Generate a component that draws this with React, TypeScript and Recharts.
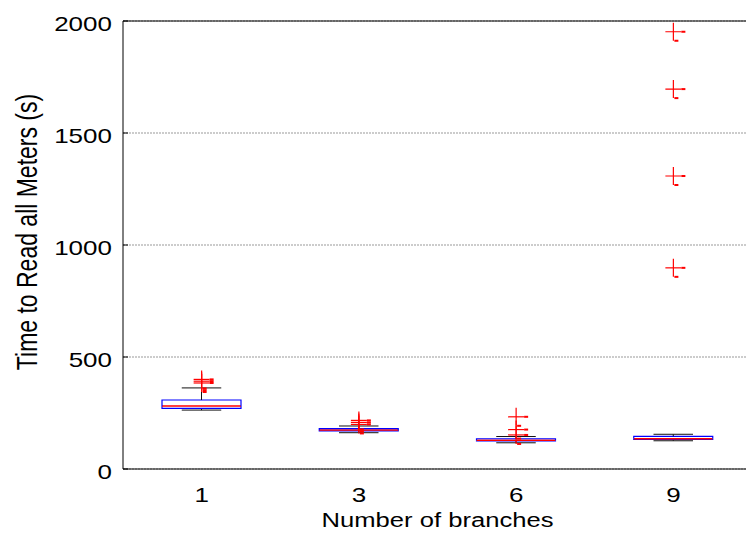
import { ComposedChart, Bar, Scatter, XAxis, YAxis, CartesianGrid, ReferenceLine } from "recharts";

const branches = ["1", "3", "6", "9"];
const whiskerLow = [263, 162, 117, 126];
const q1 = [271, 170, 125, 132];
const median = [281, 174, 128, 135];
const q3 = [308, 180, 135, 146];
const whiskerHigh = [362, 192, 145, 155];
const outliers = [
  { name: "1", values: [384, 392, 400] },
  { name: "3", values: [199, 208, 217] },
  { name: "6", values: [152, 176, 233] },
  { name: "9", values: [898, 1308, 1696, 1952] },
];
const yTicks = [0, 500, 1000, 1500, 2000];

const FONT = "'Liberation Sans', Arial, sans-serif";
const BOX_W = 79;

// stacked segments so every edge goes through the y scale
const boxData = branches.map((name, i) => ({
  name,
  base: whiskerLow[i],
  lowWhisker: q1[i] - whiskerLow[i],
  lowBox: median[i] - q1[i],
  highBox: q3[i] - median[i],
  highWhisker: whiskerHigh[i] - q3[i],
}));

const outlierData = outliers.flatMap((o) => o.values.map((value) => ({ name: o.name, value })));

const LowWhisker = (p: any) => {
  const cx = p.x + p.width / 2;
  const bottom = p.y + p.height;
  return (
    <g stroke="#111" strokeWidth={1}>
      <line x1={cx} x2={cx} y1={p.y} y2={bottom} />
      <line x1={cx - p.width / 4} x2={cx + p.width / 4} y1={bottom} y2={bottom} />
    </g>
  );
};

const HighWhisker = (p: any) => {
  const cx = p.x + p.width / 2;
  return (
    <g stroke="#111" strokeWidth={1}>
      <line x1={cx} x2={cx} y1={p.y} y2={p.y + p.height} />
      <line x1={cx - p.width / 4} x2={cx + p.width / 4} y1={p.y} y2={p.y} />
    </g>
  );
};

const LowBox = (p: any) => {
  const bottom = p.y + p.height;
  return (
    <g fill="none">
      <path d={`M${p.x},${p.y} V${bottom} H${p.x + p.width} V${p.y}`} stroke="#0000ff" strokeWidth={1.2} />
      <line x1={p.x} x2={p.x + p.width} y1={p.y} y2={p.y} stroke="#ff0000" strokeWidth={1.5} />
    </g>
  );
};

const HighBox = (p: any) => {
  const bottom = p.y + p.height;
  return (
    <path
      d={`M${p.x},${bottom} V${p.y} H${p.x + p.width} V${bottom}`}
      fill="none"
      stroke="#0000ff"
      strokeWidth={1.2}
    />
  );
};

const Plus = (p: any) => {
  const { cx, cy } = p;
  return (
    <g stroke="#ff0000" strokeWidth={1.2}>
      <line x1={cx - 8} x2={cx + 8} y1={cy} y2={cy} />
      <line x1={cx} x2={cx} y1={cy - 9} y2={cy + 9} />
      <rect x={cx + 8} y={cy - 1} width={4} height={2} fill="#ff0000" strokeWidth={0} />
      <rect x={cx + 1} y={cy + 8} width={4} height={2} fill="#ff0000" strokeWidth={0} />
    </g>
  );
};

const YTick = (p: any) => (
  <g>
    <line x1={p.x + 11} x2={p.x + 16} y1={p.y} y2={p.y} stroke="#000" />
    <text
      transform={`translate(${p.x},${p.y + 10}) scale(1.3,1)`}
      textAnchor="end"
      fontSize={20}
      fontFamily={FONT}
      fill="#000"
    >
      {p.payload.value}
    </text>
  </g>
);

const XTick = (p: any) => (
  <text
    transform={`translate(${p.x},${p.y + 33}) scale(1.3,1)`}
    textAnchor="middle"
    fontSize={20}
    fontFamily={FONT}
    fill="#000"
  >
    {p.payload.value}
  </text>
);

const XTitle = (p: any) => {
  const vb = p.viewBox;
  return (
    <text
      transform={`translate(${vb.x + vb.width / 2},527) scale(1.28,1)`}
      textAnchor="middle"
      fontSize={20}
      fontFamily={FONT}
      fill="#000"
    >
      Number of branches
    </text>
  );
};

const YTitle = () => (
  <text
    transform="translate(37,232) scale(1.3,1) rotate(-90)"
    textAnchor="middle"
    fontSize={23}
    fontFamily={FONT}
    fill="#000"
  >
    Time to Read all Meters (s)
  </text>
);

export default function App() {
  return (
    <div style={{ position: "absolute", left: 0, top: 0, width: 746, height: 533, overflow: "hidden", background: "#fff" }}>
      <ComposedChart
        width={770}
        height={533}
        data={boxData}
        margin={{ top: 21, right: 18, bottom: 0, left: 0 }}
      >
        <CartesianGrid vertical={false} stroke="#999" strokeDasharray="2 1" />
        <XAxis
          dataKey="name"
          type="category"
          allowDuplicatedCategory={false}
          height={64}
          axisLine={{ stroke: "#000" }}
          tickLine={false}
          tickSize={0}
          tickMargin={0}
          tick={<XTick />}
          label={{ value: "Number of branches", content: <XTitle /> }}
        />
        <YAxis
          type="number"
          domain={[0, 2000]}
          ticks={yTicks}
          width={123}
          axisLine={{ stroke: "#000" }}
          tickLine={false}
          tickSize={0}
          tickMargin={11}
          tick={<YTick />}
          label={{ value: "Time to Read all Meters (s)", content: <YTitle /> }}
          allowDataOverflow
        />
        <ReferenceLine y={2000} stroke="#000" />
        <Bar dataKey="base" stackId="box" fill="none" barSize={BOX_W} isAnimationActive={false} />
        <Bar dataKey="lowWhisker" stackId="box" barSize={BOX_W} shape={<LowWhisker />} isAnimationActive={false} />
        <Bar dataKey="lowBox" stackId="box" barSize={BOX_W} shape={<LowBox />} isAnimationActive={false} />
        <Bar dataKey="highBox" stackId="box" barSize={BOX_W} shape={<HighBox />} isAnimationActive={false} />
        <Bar dataKey="highWhisker" stackId="box" barSize={BOX_W} shape={<HighWhisker />} isAnimationActive={false} />
        <Scatter data={outlierData} dataKey="value" shape={<Plus />} isAnimationActive={false} />
      </ComposedChart>
    </div>
  );
}
